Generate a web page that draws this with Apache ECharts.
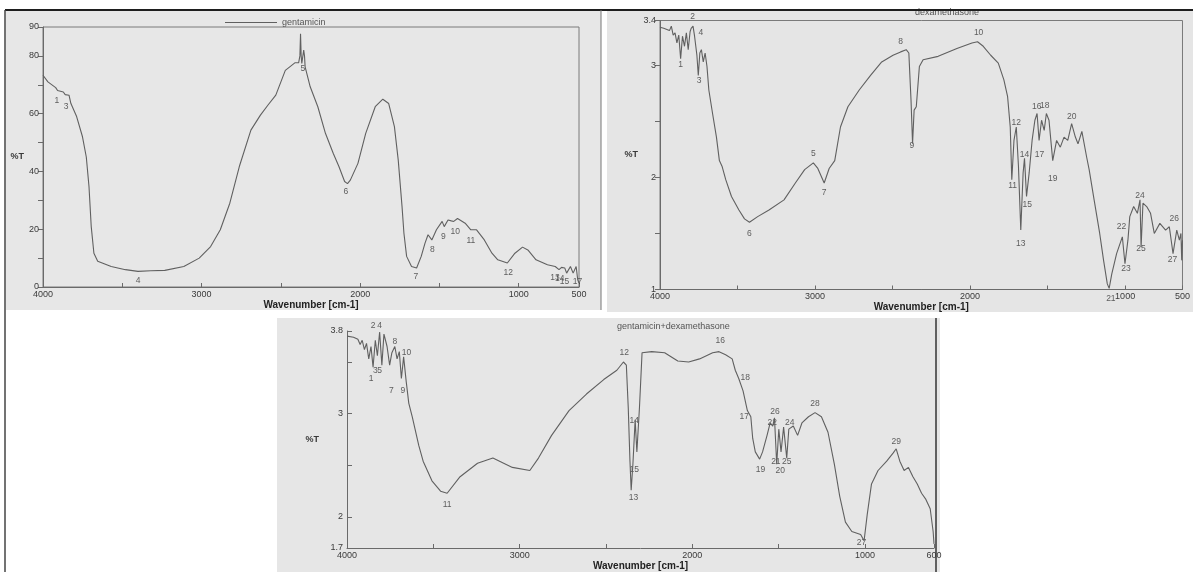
<!DOCTYPE html>
<html><head><meta charset="utf-8">
<script src="https://cdn.jsdelivr.net/npm/echarts@6/dist/echarts.min.js"></script>
<style>html,body{margin:0;padding:0;background:#fff}#c{width:1193px;height:572px}</style>
</head><body><div id="c"></div>
<script>
// ---- DATA ----
const gentamicin = [[4000,73.3],[3969,71],[3920,69],[3908,68],[3900,68.5],[3872,67.5],[3860,66.6],[3850,67.2],[3836,66.4],[3824,63.5],[3788,59],[3751,52],[3727,45],[3710,34.8],[3696,21],[3679,11.7],[3655,8.9],[3570,7.1],[3480,6.0],[3401,5.4],[3320,5.6],[3232,5.75],[3112,7.1],[3015,10],[2943,14],[2882,19.8],[2822,29],[2762,41.7],[2689,54.3],[2629,59.5],[2581,63],[2532,66.4],[2472,75],[2412,77.6],[2388,77.6],[2380,80],[2376,87.7],[2372,80],[2368,77.4],[2362,78],[2356,82],[2351,80],[2347,76.2],[2315,69.3],[2267,62.4],[2219,53.2],[2170,46.3],[2134,41.7],[2098,36.5],[2080,35.8],[2062,37],[2014,42.8],[1965,53.2],[1905,62.4],[1857,65],[1820,63.5],[1784,55.5],[1760,44],[1736,27.9],[1724,18.6],[1707,10.6],[1676,7.1],[1644,6.6],[1615,10.6],[1591,15.2],[1572,18.1],[1560,17.5],[1548,16.3],[1519,19.8],[1483,22.7],[1470,20.9],[1446,23.2],[1425,22.9],[1410,22.7],[1386,23.7],[1338,22.1],[1302,19.8],[1266,19.8],[1217,16.3],[1169,11.7],[1132,9.4],[1072,8.3],[1024,11.7],[976,13.8],[940,12.7],[891,9.4],[819,7.7],[770,7.1],[746,6],[730,6.8],[710,6.6],[698,4.8],[674,7.1],[657,4.8],[638,7.1],[628,2.5],[620,1.4]];
const gentamicinPeaks = [[3912,64.5,'1'],[3855,62.5,'3'],[3401,2.2,'4'],[2362,75.5,'5'],[2090,33,'6'],[1648,3.5,'7'],[1545,13,'8'],[1475,17.5,'9'],[1400,19,'10'],[1302,16,'11'],[1066,5,'12'],[772,3.4,'13'],[742,3.0,'14'],[712,1.9,'15'],[630,1.8,'17']];

const dexamethasone = [[4000,3.34],[3976,3.33],[3939,3.31],[3927,3.35],[3915,3.27],[3903,3.29],[3891,3.20],[3879,3.27],[3867,3.06],[3855,3.26],[3842,3.17],[3830,3.29],[3818,3.14],[3806,3.30],[3799,3.33],[3787,3.35],[3777,3.26],[3762,3.09],[3753,2.91],[3743,3.11],[3733,3.14],[3721,3.03],[3709,3.11],[3697,2.99],[3685,2.78],[3661,2.57],[3636,2.36],[3617,2.15],[3600,2.10],[3576,1.98],[3539,1.83],[3491,1.71],[3455,1.63],[3423,1.60],[3370,1.65],[3297,1.71],[3200,1.80],[3127,1.95],[3067,2.07],[3011,2.13],[2982,2.08],[2941,1.95],[2909,2.08],[2873,2.15],[2836,2.45],[2788,2.63],[2715,2.78],[2642,2.91],[2570,3.03],[2497,3.09],[2448,3.12],[2412,3.14],[2395,3.11],[2381,2.69],[2371,2.30],[2361,2.60],[2347,2.63],[2327,2.99],[2303,3.05],[2206,3.08],[2085,3.15],[1988,3.20],[1952,3.21],[1915,3.17],[1867,3.09],[1818,3.02],[1782,2.87],[1758,2.72],[1741,2.45],[1731,1.98],[1717,2.33],[1702,2.45],[1688,2.10],[1673,1.53],[1658,2.04],[1649,2.17],[1636,1.83],[1619,2.04],[1600,2.33],[1582,2.51],[1568,2.57],[1555,2.33],[1539,2.51],[1522,2.42],[1508,2.57],[1491,2.51],[1467,2.15],[1442,2.33],[1418,2.27],[1394,2.36],[1370,2.33],[1345,2.48],[1321,2.36],[1304,2.30],[1279,2.41],[1248,2.18],[1232,2.07],[1200,1.80],[1164,1.50],[1139,1.26],[1115,1.05],[1103,1.01],[1086,1.14],[1055,1.32],[1018,1.47],[1001,1.23],[982,1.44],[970,1.65],[945,1.74],[921,1.68],[904,1.80],[897,1.38],[885,1.77],[861,1.74],[836,1.68],[812,1.50],[776,1.59],[739,1.53],[715,1.56],[691,1.32],[667,1.53],[650,1.44],[640,1.50],[635,1.26],[630,1.44]];
const dexamethasonePeaks = [[3867,3.01,'1'],[3790,3.43,'2'],[3748,2.86,'3'],[3736,3.29,'4'],[3011,2.21,'5'],[3423,1.5,'6'],[2941,1.86,'7'],[2448,3.21,'8'],[2376,2.28,'9'],[1945,3.29,'10'],[1726,1.93,'11'],[1702,2.49,'12'],[1673,1.41,'13'],[1649,2.2,'14'],[1632,1.76,'15'],[1570,2.63,'16'],[1552,2.2,'17'],[1518,2.64,'18'],[1467,1.99,'19'],[1345,2.54,'20'],[1092,0.92,'21'],[1023,1.56,'22'],[994,1.19,'23'],[904,1.84,'24'],[897,1.36,'25'],[683,1.63,'26'],[695,1.27,'27']];

const combination = [[4000,3.75],[3962,3.74],[3937,3.72],[3924,3.67],[3912,3.71],[3899,3.62],[3887,3.68],[3874,3.53],[3861,3.65],[3849,3.45],[3836,3.71],[3824,3.56],[3811,3.79],[3798,3.47],[3786,3.77],[3768,3.65],[3753,3.47],[3740,3.59],[3723,3.65],[3710,3.53],[3697,3.60],[3685,3.34],[3672,3.55],[3657,3.31],[3642,3.10],[3622,2.97],[3584,2.69],[3559,2.54],[3508,2.35],[3458,2.25],[3420,2.23],[3345,2.39],[3244,2.52],[3155,2.57],[3042,2.48],[2941,2.45],[2891,2.57],[2815,2.79],[2714,3.03],[2613,3.19],[2513,3.33],[2437,3.42],[2399,3.50],[2382,3.47],[2371,3.06],[2361,2.54],[2354,2.26],[2344,2.51],[2331,2.94],[2321,2.63],[2306,3.06],[2291,3.59],[2235,3.60],[2160,3.59],[2084,3.51],[2021,3.50],[1958,3.53],[1882,3.59],[1845,3.60],[1807,3.57],[1769,3.53],[1751,3.42],[1731,3.34],[1706,3.22],[1681,3.03],[1661,2.97],[1650,2.76],[1635,2.63],[1610,2.56],[1593,2.63],[1567,2.79],[1549,2.91],[1534,2.88],[1524,2.96],[1511,2.51],[1499,2.85],[1486,2.63],[1471,2.87],[1453,2.57],[1441,2.85],[1415,2.88],[1390,2.79],[1365,2.91],[1327,2.97],[1289,3.01],[1252,2.97],[1214,2.82],[1177,2.51],[1146,2.20],[1113,1.95],[1076,1.86],[1025,1.83],[1005,1.77],[987,2.02],[962,2.32],[924,2.45],[874,2.54],[836,2.62],[819,2.66],[798,2.54],[773,2.45],[748,2.48],[722,2.39],[697,2.32],[672,2.23],[647,2.17],[622,2.08],[605,1.86],[600,1.74]];
const combinationPeaks = [[3861,3.34,'1'],[3849,3.85,'2'],[3836,3.42,'3'],[3811,3.85,'4'],[3811,3.42,'5'],[3723,3.70,'8'],[3743,3.22,'7'],[3677,3.22,'9'],[3655,3.59,'10'],[3420,2.12,'11'],[2394,3.59,'12'],[2341,2.19,'13'],[2336,2.93,'14'],[2336,2.46,'15'],[1838,3.71,'16'],[1699,2.97,'17'],[1693,3.35,'18'],[1605,2.46,'19'],[1491,2.45,'20'],[1516,2.54,'21'],[1537,2.91,'22'],[1453,2.54,'25'],[1521,3.02,'26'],[1436,2.91,'24'],[1289,3.10,'28'],[1020,1.75,'27'],[819,2.73,'29']];

// tick positions and texts
const xTickVals = [4000,3500,3000,2500,2000,1500,1000];
const xLabelVals1 = [4000,3000,2000,1000,620], xLabelText1 = ['4000','3000','2000','1000','500'];
const xLabelVals2 = [4000,3000,2000,1000,630], xLabelText2 = ['4000','3000','2000','1000','500'];
const xLabelVals3 = [4000,3000,2000,1000,600], xLabelText3 = ['4000','3000','2000','1000','600'];
const yTickVals1 = [0,10,20,30,40,50,60,70,80,90], yLabelVals1 = [0,20,40,60,80,90];
const yTickVals2 = [1,1.5,2,2.5,3,3.4], yLabelVals2 = [1,2,3,3.4];
const yTickVals3 = [1.7,2,2.5,3,3.5,3.8], yLabelVals3 = [1.7,2,3,3.8], yLabelText3 = ['1.7','2','3','3.8'];

// ---- CHART ----
const FONT = 'Liberation Sans';
const TXT = '#3a3a3a';
function xAxis(gi, min, lv, lt, gap) {
  return {type:'value', gridIndex:gi, inverse:true, min:min, max:4000,
    axisLine:{show:true, onZero:false, lineStyle:{color:'#6a6a6a', width:1}},
    axisTick:{show:true, inside:true, length:4, customValues:xTickVals.concat([min]), lineStyle:{color:'#6a6a6a'}},
    axisLabel:{customValues:lv, formatter:v => { const i = lv.indexOf(v); return i >= 0 ? lt[i] : ''; },
      color:TXT, fontSize:9, fontFamily:FONT, margin:3, showMinLabel:true, showMaxLabel:true, hideOverlap:false},
    splitLine:{show:false},
    name:'Wavenumber [cm-1]', nameLocation:'middle', nameGap:gap,
    nameTextStyle:{color:'#222', fontSize:10, fontWeight:'bold', fontFamily:FONT}};
}
function yAxis(gi, min, max, tv, lv, lt, gap, inside) {
  return {type:'value', gridIndex:gi, min:min, max:max,
    axisLine:{show:true, onZero:false, lineStyle:{color:'#6a6a6a', width:1}},
    axisTick:{show:true, inside:inside, length:5, customValues:tv, lineStyle:{color:'#6a6a6a'}},
    axisLabel:{customValues:lv, formatter:v => { if (!lt) return String(v); const i = lv.indexOf(v); return i >= 0 ? lt[i] : String(v); },
      color:TXT, fontSize:9, fontFamily:FONT, margin:4, showMinLabel:true, showMaxLabel:true, hideOverlap:false},
    splitLine:{show:false},
    name:'%T', nameLocation:'middle', nameRotate:0, nameGap:gap,
    nameTextStyle:{color:TXT, fontSize:9, fontWeight:'bold', fontFamily:FONT}};
}
function line(name, gi, data) {
  return {name:name, type:'line', xAxisIndex:gi, yAxisIndex:gi, data:data, showSymbol:false, symbol:'none',
    lineStyle:{color:'#606060', width:1.1}, itemStyle:{color:'#606060'}, silent:true, animation:false};
}
function peaks(gi, data) {
  return {type:'scatter', xAxisIndex:gi, yAxisIndex:gi, data:data, symbolSize:1, clip:false, silent:true, animation:false,
    itemStyle:{color:'rgba(0,0,0,0)'}, encode:{x:0, y:1},
    label:{show:true, position:'inside', formatter:p => p.value[2], color:'#3a3a3a', fontSize:8.5, fontFamily:FONT}};
}

const chart = echarts.init(document.getElementById('c'), null, {renderer:'canvas'});
chart.setOption({
  backgroundColor:'#ffffff',
  animation:false,
  graphic:[
    {type:'rect', z:-100, shape:{x:6, y:11, width:595, height:299}, style:{fill:'#e7e7e7'}},
    {type:'rect', z:-100, shape:{x:607, y:11, width:586, height:301}, style:{fill:'#e5e5e5'}},
    {type:'rect', z:-100, shape:{x:277, y:318, width:663, height:254}, style:{fill:'#e6e6e6'}},
    {type:'line', z:100, shape:{x1:5, y1:10, x2:1193, y2:10}, style:{stroke:'#1e1e1e', lineWidth:2}},
    {type:'line', z:100, shape:{x1:5, y1:10, x2:5, y2:572}, style:{stroke:'#444', lineWidth:1.5}},
    {type:'line', z:100, shape:{x1:601, y1:10, x2:601, y2:310}, style:{stroke:'#777', lineWidth:1}},
    {type:'line', z:100, shape:{x1:936, y1:318, x2:936, y2:572}, style:{stroke:'#333', lineWidth:1.5}}
  ],
  title:[
    {text:'dexamethasone', left:910, top:3, textStyle:{color:'#555', fontSize:9, fontWeight:'normal', fontFamily:FONT}},
    {text:'gentamicin+dexamethasone', left:612, top:317, textStyle:{color:'#555', fontSize:9, fontWeight:'normal', fontFamily:FONT}}
  ],
  legend:{data:['gentamicin'], left:220, top:13, itemWidth:52, itemHeight:1, icon:'rect', itemGap:5,
    textStyle:{color:'#555', fontSize:9, fontFamily:FONT}},
  grid:[
    {left:43, top:27, width:536, height:260, show:true, borderColor:'#7a7a7a', borderWidth:1, backgroundColor:'transparent'},
    {left:660, top:20.5, width:527, height:269, show:true, borderColor:'#7a7a7a', borderWidth:1, backgroundColor:'transparent'},
    {left:347, top:331, width:587, height:226}
  ],
  xAxis:[
    xAxis(0, 620, xLabelVals1, xLabelText1, 12),
    xAxis(1, 630, xLabelVals2, xLabelText2, 10),
    xAxis(2, 600, xLabelVals3, xLabelText3, 13)
  ],
  yAxis:[
    yAxis(0, 0, 90, yTickVals1, yLabelVals1, null, 16, false),
    yAxis(1, 1, 3.4, yTickVals2, yLabelVals2, null, 22, false),
    yAxis(2, 1.7, 3.8, yTickVals3, yLabelVals3, yLabelText3, 28, true)
  ],
  series:[
    line('gentamicin', 0, gentamicin),
    peaks(0, gentamicinPeaks),
    line('dexamethasone', 1, dexamethasone),
    peaks(1, dexamethasonePeaks),
    line('gentamicin+dexamethasone', 2, combination),
    peaks(2, combinationPeaks)
  ]
});
</script></body></html>
